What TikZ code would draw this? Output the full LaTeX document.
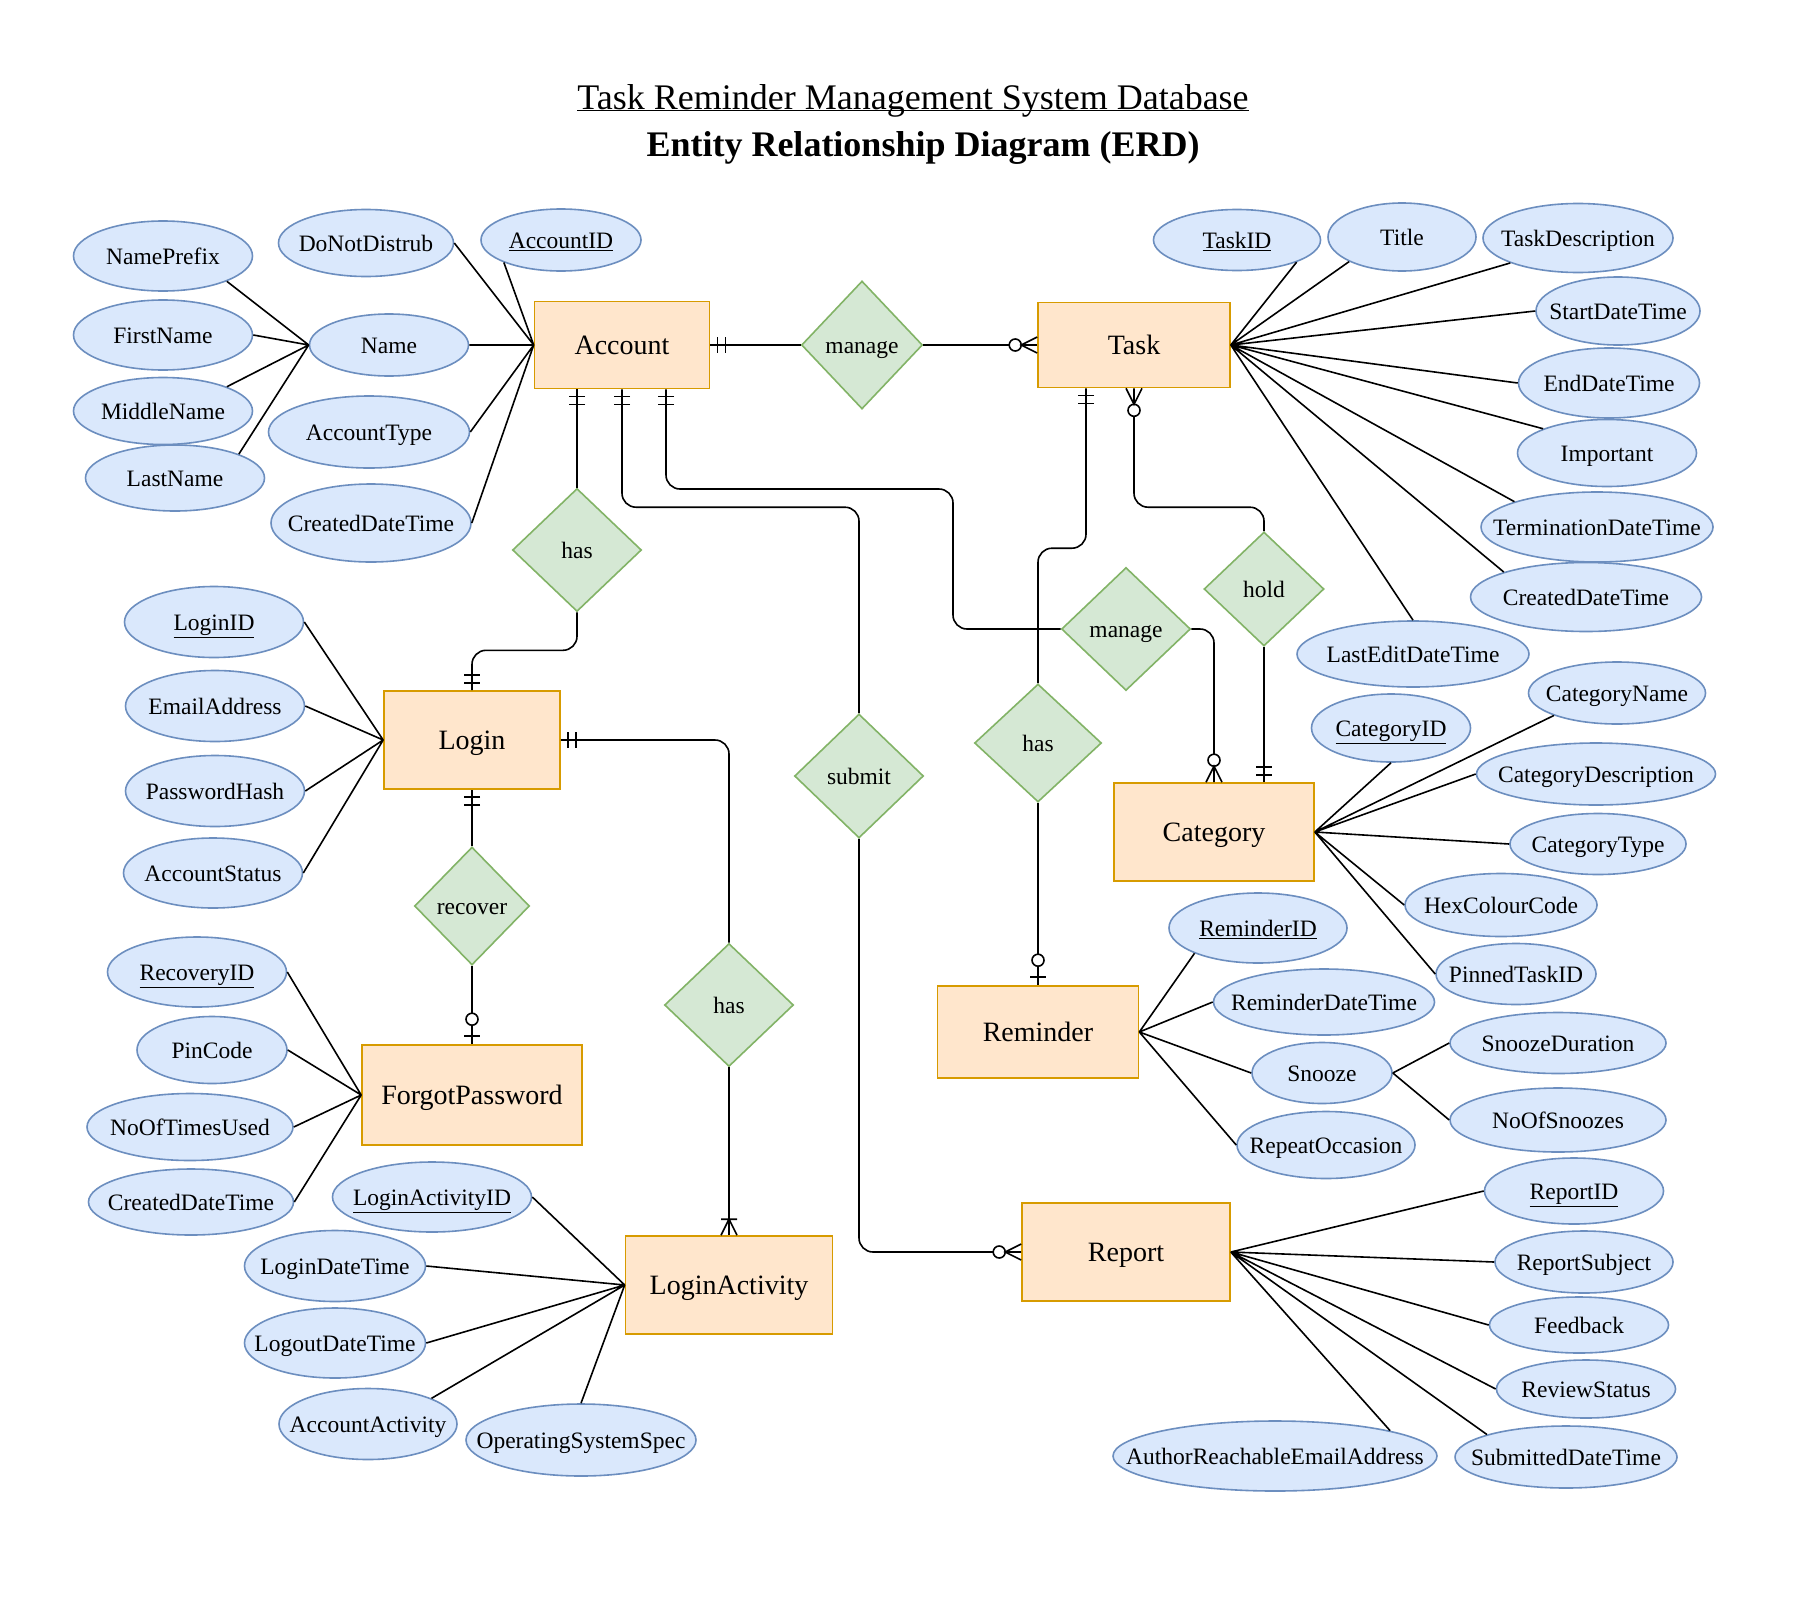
\documentclass[tikz,border=0pt]{standalone}
\usepackage{fontspec}
\setmainfont{Liberation Serif}
\usepackage{tikz}
\usetikzlibrary{shapes.geometric, decorations.markings}

\definecolor{entityfill}{HTML}{FFE6CC}
\definecolor{entityline}{HTML}{D79B00}
\definecolor{relfill}{HTML}{D5E8D4}
\definecolor{relline}{HTML}{82B366}
\definecolor{attrfill}{HTML}{DAE8FC}
\definecolor{attrline}{HTML}{6C8EBF}

\tikzset{
  entity/.style={draw=entityline, fill=entityfill, line width=1.6pt, inner sep=0pt, text height=24pt, text depth=5pt, font=\fontsize{28}{32}\selectfont},
  rel/.style={diamond, draw=relline, fill=relfill, line width=1.6pt, inner sep=0pt, text height=20pt, text depth=3pt, font=\fontsize{23.5}{28}\selectfont},
  attr/.style={ellipse, draw=attrline, fill=attrfill, line width=1.6pt, inner ysep=0pt, inner xsep=-60pt, text height=20pt, text depth=3pt, font=\fontsize{23.5}{28}\selectfont},
  link/.style={line width=1.6pt},
  conn/.style={line width=1.6pt, rounded corners=14pt},
  one end/.style={postaction=decorate, decoration={markings,
      mark=at position -15pt with {\draw[link, sharp corners] (0pt,-8pt) -- (0pt,8pt);},
      mark=at position -7pt with {\draw[link, sharp corners] (0pt,-8pt) -- (0pt,8pt);}}},
  zero many end/.style={postaction=decorate, decoration={markings,
      mark=at position -22pt with {\draw[link, fill=white] (0pt,0pt) circle (6pt);},
      mark=at position -16pt with {\draw[link, sharp corners] (16pt,8pt) -- (0pt,0pt) -- (16pt,-8pt);}}},
  zero one end/.style={postaction=decorate, decoration={markings,
      mark=at position -25pt with {\draw[link, fill=white] (0pt,0pt) circle (6pt);},
      mark=at position -8pt with {\draw[link, sharp corners] (0pt,-8pt) -- (0pt,8pt);}}},
  one many end/.style={postaction=decorate, decoration={markings,
      mark=at position -16pt with {\draw[link, sharp corners] (0pt,-8pt) -- (0pt,8pt) (16pt,8pt) -- (0pt,0pt) -- (16pt,-8pt);}}},
}

\begin{document}
\begin{tikzpicture}[x=1pt, y=-1pt]
    \path[fill=white] (0,0) rectangle (1803,1603);
    \useasboundingbox (0,0) rectangle (1803,1603);

    \node[anchor=base, font=\fontsize{36}{40}\selectfont] (title) at (913,109) {\underline{\smash{Task Reminder Management System Database}}};
    \node[anchor=base, font=\fontsize{36}{40}\selectfont\bfseries] (subtitle) at (923,156) {Entity Relationship Diagram (ERD)};

    \node[entity, minimum width=175pt, minimum height=87pt] (acc) at (622,345) {Account};
    \node[entity, minimum width=192pt, minimum height=85pt] (task) at (1134,345) {Task};
    \node[entity, minimum width=176pt, minimum height=98pt] (login) at (472,740) {Login};
    \node[entity, minimum width=220pt, minimum height=100pt] (forgot) at (472,1095) {ForgotPassword};
    \node[entity, minimum width=207pt, minimum height=98pt] (logact) at (729,1285) {LoginActivity};
    \node[entity, minimum width=200pt, minimum height=98pt] (cat) at (1214,832) {Category};
    \node[entity, minimum width=201pt, minimum height=92pt] (rem) at (1038,1032) {Reminder};
    \node[entity, minimum width=208pt, minimum height=98pt] (rep) at (1126,1252) {Report};

    \node[rel, minimum width=121pt, minimum height=128pt] (mng1) at (862,345) {manage};
    \node[rel, minimum width=129pt, minimum height=123pt] (has1) at (577,550) {has};
    \node[rel, minimum width=115pt, minimum height=118pt] (recov) at (472,906) {recover};
    \node[rel, minimum width=129pt, minimum height=123pt] (has2) at (729,1005) {has};
    \node[rel, minimum width=129pt, minimum height=124pt] (sub) at (859,776) {submit};
    \node[rel, minimum width=129pt, minimum height=123pt] (mng2) at (1126,629) {manage};
    \node[rel, minimum width=120pt, minimum height=114pt] (hold) at (1264,589) {hold};
    \node[rel, minimum width=127pt, minimum height=118pt] (has3) at (1038,743) {has};

    \node[attr, minimum width=179pt, minimum height=70pt] (nameprefix) at (163,256) {NamePrefix};
    \node[attr, minimum width=179pt, minimum height=70pt] (firstname) at (163,335) {FirstName};
    \node[attr, minimum width=179pt, minimum height=67pt] (middlename) at (163,411) {MiddleName};
    \node[attr, minimum width=179pt, minimum height=66pt] (lastname) at (175,478) {LastName};
    \node[attr, minimum width=159pt, minimum height=62pt] (name) at (389,345) {Name};
    \node[attr, minimum width=175pt, minimum height=67pt] (dnd) at (366,243) {DoNotDistrub};
    \node[attr, minimum width=160pt, minimum height=62pt] (accid) at (561,240) {\underline{AccountID}};
    \node[attr, minimum width=201pt, minimum height=72pt] (acctype) at (369,432) {AccountType};
    \node[attr, minimum width=200pt, minimum height=78pt] (acccreated) at (371,523) {CreatedDateTime};

    \node[attr, minimum width=179pt, minimum height=71pt] (loginid) at (214,622) {\underline{LoginID}};
    \node[attr, minimum width=179pt, minimum height=71pt] (email) at (215,706) {EmailAddress};
    \node[attr, minimum width=179pt, minimum height=71pt] (pwhash) at (215,791) {PasswordHash};
    \node[attr, minimum width=179pt, minimum height=70pt] (accstatus) at (213,873) {AccountStatus};

    \node[attr, minimum width=179pt, minimum height=70pt] (recid) at (197,972) {\underline{RecoveryID}};
    \node[attr, minimum width=150pt, minimum height=67pt] (pin) at (212,1050) {PinCode};
    \node[attr, minimum width=206pt, minimum height=67pt] (timesused) at (190,1127) {NoOfTimesUsed};
    \node[attr, minimum width=205pt, minimum height=66pt] (fpcreated) at (191,1202) {CreatedDateTime};

    \node[attr, minimum width=199pt, minimum height=70pt] (laid) at (432,1197) {\underline{LoginActivityID}};
    \node[attr, minimum width=181pt, minimum height=71pt] (logindt) at (335,1266) {LoginDateTime};
    \node[attr, minimum width=181pt, minimum height=70pt] (logoutdt) at (335,1343) {LogoutDateTime};
    \node[attr, minimum width=178pt, minimum height=71pt] (accact) at (368,1424) {AccountActivity};
    \node[attr, minimum width=230pt, minimum height=72pt] (osspec) at (581,1440) {OperatingSystemSpec};

    \node[attr, minimum width=167pt, minimum height=61pt] (taskid) at (1237,240) {\underline{TaskID}};
    \node[attr, minimum width=148pt, minimum height=68pt] (tasktitle) at (1402,237) {Title};
    \node[attr, minimum width=190pt, minimum height=69pt] (taskdesc) at (1578,238) {TaskDescription};
    \node[attr, minimum width=164pt, minimum height=68pt] (startdt) at (1618,311) {StartDateTime};
    \node[attr, minimum width=181pt, minimum height=70pt] (enddt) at (1609,383) {EndDateTime};
    \node[attr, minimum width=179pt, minimum height=67pt] (important) at (1607,453) {Important};
    \node[attr, minimum width=232pt, minimum height=70pt] (termdt) at (1597,527) {TerminationDateTime};
    \node[attr, minimum width=231pt, minimum height=69pt] (taskcreated) at (1586,597) {CreatedDateTime};
    \node[attr, minimum width=232pt, minimum height=66pt] (lastedit) at (1413,654) {LastEditDateTime};

    \node[attr, minimum width=159pt, minimum height=68pt] (catid) at (1391,728) {\underline{CategoryID}};
    \node[attr, minimum width=177pt, minimum height=62pt] (catname) at (1617,693) {CategoryName};
    \node[attr, minimum width=239pt, minimum height=62pt] (catdesc) at (1596,774) {CategoryDescription};
    \node[attr, minimum width=176pt, minimum height=61pt] (cattype) at (1598,844) {CategoryType};
    \node[attr, minimum width=192pt, minimum height=63pt] (hexcol) at (1501,905) {HexColourCode};
    \node[attr, minimum width=160pt, minimum height=61pt] (pinned) at (1516,974) {PinnedTaskID};

    \node[attr, minimum width=178pt, minimum height=70pt] (remid) at (1258,928) {\underline{ReminderID}};
    \node[attr, minimum width=221pt, minimum height=66pt] (remdt) at (1324,1002) {ReminderDateTime};
    \node[attr, minimum width=140pt, minimum height=61pt] (snooze) at (1322,1073) {Snooze};
    \node[attr, minimum width=178pt, minimum height=67pt] (repeat) at (1326,1145) {RepeatOccasion};
    \node[attr, minimum width=216pt, minimum height=61pt] (snoozedur) at (1558,1043) {SnoozeDuration};
    \node[attr, minimum width=216pt, minimum height=64pt] (snoozecount) at (1558,1120) {NoOfSnoozes};

    \node[attr, minimum width=179pt, minimum height=66pt] (repid) at (1574,1191) {\underline{ReportID}};
    \node[attr, minimum width=178pt, minimum height=62pt] (repsubj) at (1584,1262) {ReportSubject};
    \node[attr, minimum width=179pt, minimum height=56pt] (feedback) at (1579,1325) {Feedback};
    \node[attr, minimum width=179pt, minimum height=58pt] (revstatus) at (1586,1389) {ReviewStatus};
    \node[attr, minimum width=222pt, minimum height=62pt] (submitted) at (1566,1457) {SubmittedDateTime};
    \node[attr, minimum width=324pt, minimum height=70pt] (authemail) at (1275,1456) {AuthorReachableEmailAddress};

    \draw[link] (acc.west) -- (accid.south west) (acc.west) -- (dnd.east) (acc.west) -- (name.east)
      (acc.west) -- (acctype.east) (acc.west) -- (acccreated.east)
      (name.west) -- (nameprefix.south east) (name.west) -- (firstname.east)
      (name.west) -- (middlename.north east) (name.west) -- (lastname.north east)
      (login.west) -- (loginid.east) (login.west) -- (email.east)
      (login.west) -- (pwhash.east) (login.west) -- (accstatus.east)
      (forgot.west) -- (recid.east) (forgot.west) -- (pin.east)
      (forgot.west) -- (timesused.east) (forgot.west) -- (fpcreated.east)
      (logact.west) -- (laid.east) (logact.west) -- (logindt.east) (logact.west) -- (logoutdt.east)
      (logact.west) -- (accact.north east) (logact.west) -- (osspec.north)
      (task.east) -- (taskid.south east) (task.east) -- (tasktitle.south west) (task.east) -- (taskdesc.south west)
      (task.east) -- (startdt.west) (task.east) -- (enddt.west) (task.east) -- (important.north west)
      (task.east) -- (termdt.north west) (task.east) -- (taskcreated.north west) (task.east) -- (lastedit.north)
      (cat.east) -- (catid.south) (cat.east) -- (catname.south west) (cat.east) -- (catdesc.west)
      (cat.east) -- (cattype.west) (cat.east) -- (hexcol.west) (cat.east) -- (pinned.west)
      (rem.east) -- (remid.south west) (rem.east) -- (remdt.west) (rem.east) -- (snooze.west) (rem.east) -- (repeat.west)
      (snooze.east) -- (snoozedur.west) (snooze.east) -- (snoozecount.west)
      (rep.east) -- (repid.west) (rep.east) -- (repsubj.west) (rep.east) -- (feedback.west)
      (rep.east) -- (revstatus.west) (rep.east) -- (submitted.north west) (rep.east) -- (authemail.north east);

    \draw[conn, one end] (mng1.west) -- (acc.east);
    \draw[conn, zero many end] (mng1.east) -- (task.west);
    \draw[conn, one end] (has1.north) -- (has1.north |- acc.south);
    \draw[conn, one end] (has1.south) -- ++(0,38) -| (login.north);
    \draw[conn, one end] (sub.north) -- ++(0,-206) -| (acc.south);
    \draw[conn, zero many end] (sub.south) |- (rep.west);
    \draw[conn, one end] (mng2.west) -| (953,489) -| ([xshift=44pt]acc.south);
    \draw[conn, zero many end] (mng2.east) -| (cat.north);
    \draw[conn, one end] (has3.north) -- ++(0,-135) -| ([xshift=-48pt]task.south);
    \draw[conn, zero one end] (has3.south) -- (rem.north);
    \draw[conn, zero many end] (hold.north) -- ++(0,-24) -| (task.south);
    \draw[conn, one end] (hold.south) -- (hold.south |- cat.north);
    \draw[conn, one end] (recov.north) -- (login.south);
    \draw[conn, zero one end] (recov.south) -- (forgot.north);
    \draw[conn, one end] (has2.north) |- (login.east);
    \draw[conn, one many end] (has2.south) -- (logact.north);
\end{tikzpicture}
\end{document}
